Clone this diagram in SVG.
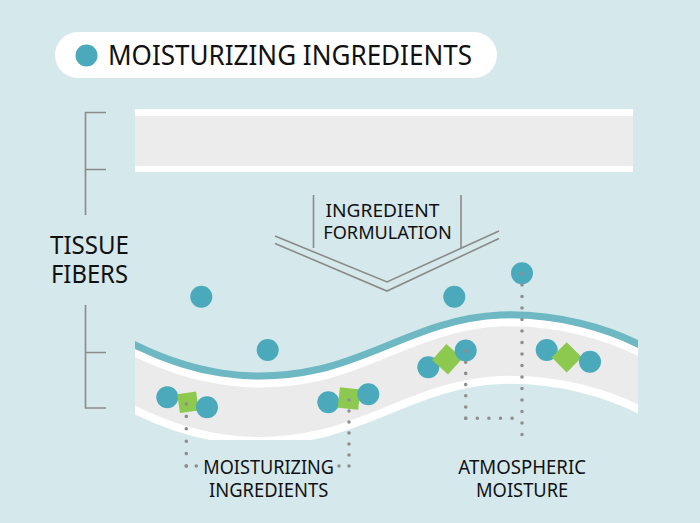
<svg xmlns="http://www.w3.org/2000/svg" width="700" height="523" viewBox="0 0 700 523">
<defs>
<style>
.t{font-family:"Noto Sans","Open Sans","Liberation Sans",sans-serif;fill:#111111;font-weight:400}
.mol{fill:#4aa9ba}
.grn{fill:#8dc94f}
.dot{fill:none;stroke:#8e8e8e;stroke-width:3.6;stroke-linecap:round}
.gl{fill:none;stroke:#8a8a8a;stroke-width:1.6}
</style>
<clipPath id="bandclip"><rect x="135" y="280" width="503" height="160"/></clipPath>
</defs>
<rect width="700" height="523" fill="#d5e8eb"/>

<g id="title">
<rect x="55" y="32" width="442" height="46" rx="23" fill="#ffffff"/>
<circle cx="86.5" cy="55.5" r="11" class="mol"/>
<text class="t" x="108" y="65" font-size="28" font-weight="600" textLength="364" lengthAdjust="spacingAndGlyphs">MOISTURIZING INGREDIENTS</text>
</g>

<g id="top-fiber">
<rect x="135" y="109" width="498" height="63" fill="#ffffff"/>
<rect x="135" y="116" width="498" height="50" fill="#ececec"/>
</g>

<g id="tissue-label">
<path class="gl" d="M106,112.5 H85.5 V215 M85.5,169.5 H106"/>
<path class="gl" d="M85.5,305 V408 H106 M85.5,352.5 H106"/>
<text class="t" x="50" y="254" font-size="25" font-weight="500" textLength="79" lengthAdjust="spacingAndGlyphs">TISSUE</text>
<text class="t" x="51" y="283" font-size="25" font-weight="500" textLength="77" lengthAdjust="spacingAndGlyphs">FIBERS</text>
</g>

<g id="formulation">
<path class="gl" d="M313.5,195 V248 M461,195 V248"/>
<path class="gl" d="M275,236 L387,282 L499,231"/>
<path class="gl" d="M275,243.5 L387,291 L499,238.5"/>
<text class="t" x="325.5" y="216.7" font-size="17.5" font-weight="500" textLength="114" lengthAdjust="spacingAndGlyphs">INGREDIENT</text>
<text class="t" x="323.3" y="239" font-size="17.5" font-weight="500" textLength="128.5" lengthAdjust="spacingAndGlyphs">FORMULATION</text>
</g>

<g id="band" clip-path="url(#bandclip)">
<path fill="#ebebeb" d="M120,337.6 L135,345 C190,372 250,385 320,369 C380,355 430,318 500,315 C560,313 610,330 638,344 L652,351 L652,416 L638,409 C610,395 560,378 500,380 C430,383 380,420 320,434 C250,450 190,437 135,410 L120,402.6 Z"/>
<path fill="none" stroke="#ffffff" stroke-width="8" transform="translate(0,7.5)" d="M120,337.6 L135,345 C190,372 250,385 320,369 C380,355 430,318 500,315 C560,313 610,330 638,344 L652,351"/>
<path fill="none" stroke="#6db8c3" stroke-width="7" d="M120,337.6 L135,345 C190,372 250,385 320,369 C380,355 430,318 500,315 C560,313 610,330 638,344 L652,351"/>
<path fill="none" stroke="#ffffff" stroke-width="8" d="M120,402.6 L135,410 C190,437 250,450 320,434 C380,420 430,383 500,380 C560,378 610,395 638,409 L652,416"/>
</g>

<g id="free-molecules">
<circle cx="201.3" cy="296.7" r="11" class="mol"/>
<circle cx="267.7" cy="350" r="11" class="mol"/>
<circle cx="454.3" cy="296.7" r="11" class="mol"/>
<circle cx="522" cy="273.3" r="11" class="mol"/>
</g>

<g id="complex-1">
<circle cx="167.3" cy="397.3" r="11" class="mol"/>
<rect x="178.5" y="392.8" width="19" height="19" class="grn" transform="rotate(-8 188 402.3)"/>
<circle cx="207" cy="407.3" r="11" class="mol"/>
</g>
<g id="complex-2">
<circle cx="328.3" cy="402.3" r="11" class="mol"/>
<rect x="338.8" y="388.3" width="20.5" height="20.5" class="grn" transform="rotate(6 349 398.5)"/>
<circle cx="368.3" cy="394.3" r="11" class="mol"/>
</g>
<g id="complex-3">
<circle cx="428.3" cy="367.3" r="11" class="mol"/>
<rect x="436.5" y="348.5" width="21.5" height="21.5" class="grn" transform="rotate(42 447.2 359.2)"/>
<circle cx="465.7" cy="350.5" r="11" class="mol"/>
</g>
<g id="complex-4">
<circle cx="546.7" cy="350" r="11" class="mol"/>
<rect x="556" y="346.6" width="21.4" height="21.4" class="grn" transform="rotate(45 566.7 357.3)"/>
<circle cx="590" cy="361.7" r="11" class="mol"/>
</g>

<g id="connectors">
<path class="dot" stroke-dasharray="0 12.4" d="M186.3,404 V466"/>
<path class="dot" stroke-dasharray="0 10" d="M186.3,466 H197"/>
<path class="dot" stroke-dasharray="0 11" d="M349,400 V466"/>
<path class="dot" stroke-dasharray="0 10" d="M349,466 H338"/>
<path class="dot" stroke-dasharray="0 11.2" d="M465.7,351 V418.2"/>
<path class="dot" stroke-dasharray="0 11.6" d="M465.7,418.2 H513"/>
<path class="dot" stroke-dasharray="0 11.5" d="M522,273.5 V446"/>
</g>

<g id="labels">
<text class="t" x="203.3" y="474.3" font-size="20" textLength="130.7" lengthAdjust="spacingAndGlyphs">MOISTURIZING</text>
<text class="t" x="209" y="497.3" font-size="20" textLength="119.3" lengthAdjust="spacingAndGlyphs">INGREDIENTS</text>
<text class="t" x="458.3" y="474.3" font-size="20" textLength="127.7" lengthAdjust="spacingAndGlyphs">ATMOSPHERIC</text>
<text class="t" x="476" y="497.3" font-size="20" textLength="92.3" lengthAdjust="spacingAndGlyphs">MOISTURE</text>
</g>
</svg>
